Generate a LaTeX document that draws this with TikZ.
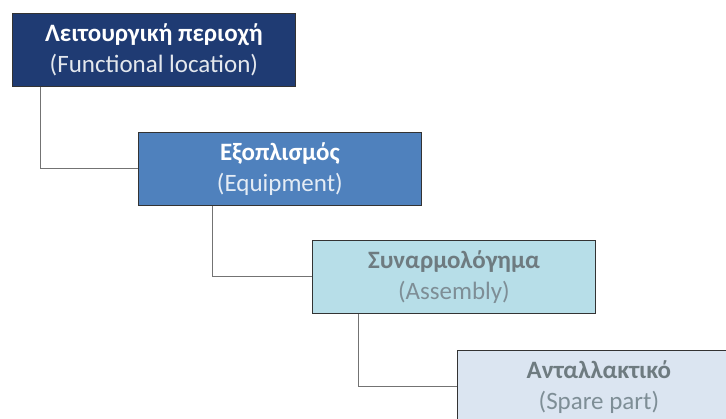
\documentclass[tikz,border=0pt]{standalone}
\usepackage{fontspec}
\setmainfont{Carlito}
\begin{document}
\begin{tikzpicture}[x=1pt,y=-1pt,
  level/.style={draw=black!80, line width=0.8pt, minimum width=283pt, minimum height=73pt,
    inner sep=0pt, align=center, font=\fontsize{25}{31}\selectfont, anchor=north west},
  link/.style={draw=black!55, line width=1pt}]
\useasboundingbox (0,0) rectangle (726,419);
\clip (0,0) rectangle (726,419);
\definecolor{navy}{HTML}{1F3B73}
\definecolor{midblue}{HTML}{4F81BD}
\definecolor{aqua}{HTML}{B7DEE8}
\definecolor{pale}{HTML}{DBE5F1}
\definecolor{greytext}{HTML}{6E7B80}
\definecolor{greysub}{HTML}{7E8E96}

\node[level, fill=navy] (func) at (12,13)
  {\textcolor{white}{\textbf{Λειτουργική περιοχή}}\\\textcolor{white!88!navy}{(Functional location)}};
\node[level, fill=midblue] (equip) at (138,132)
  {\textcolor{white}{\textbf{Εξοπλισμός}}\\\textcolor{white!85!midblue}{(Equipment)}};
\node[level, fill=aqua] (asm) at (312,240)
  {\textcolor{greytext}{\textbf{Συναρμολόγημα}}\\\textcolor{greysub}{(Assembly)}};
\node[level, fill=pale] (spare) at (457,350)
  {\textcolor{greytext}{\textbf{Ανταλλακτικό}}\\\textcolor{greysub}{(Spare part)}};

\draw[link] (func.south west) ++(28,0) |- (equip.west);
\draw[link] (equip.south west) ++(74,0) |- (asm.west);
\draw[link] (asm.south west) ++(46,0) |- (spare.west);
\end{tikzpicture}
\end{document}
